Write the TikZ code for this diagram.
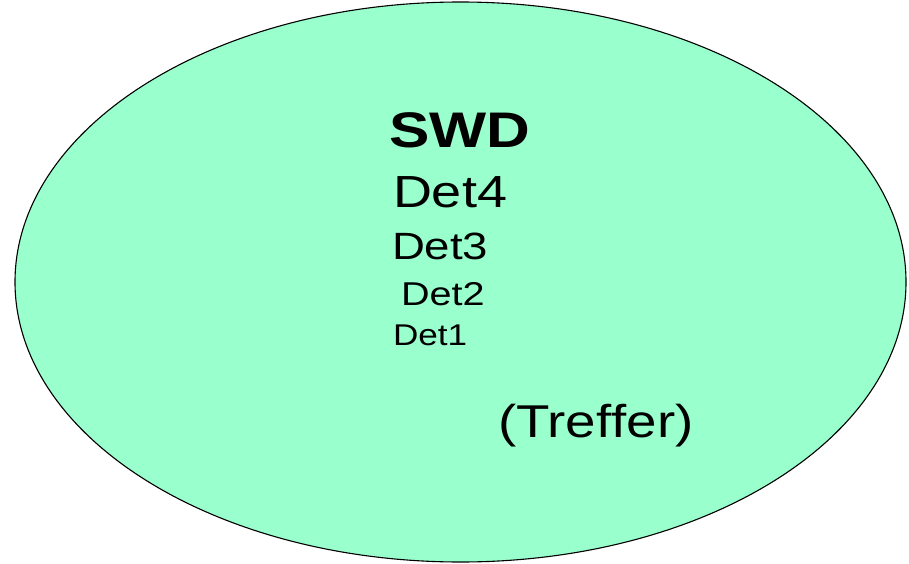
\documentclass[tikz,border=0pt]{standalone}
\usepackage{fontspec}
\setmainfont[Ligatures=NoCommon]{Liberation Sans}
\usetikzlibrary{shapes.geometric}
\definecolor{mint}{HTML}{99FFCC}
\tikzset{lbl/.style={anchor=base west, inner sep=0pt, outer sep=0pt}}
\newcommand{\txt}[3]{\scalebox{#1}[1]{\fontsize{#2}{#2}\selectfont #3}}
\begin{document}
\begin{tikzpicture}[x=1pt,y=-1pt]
\useasboundingbox (0,0) rectangle (909,564);
\node[draw=black, line width=1.1pt, fill=mint, ellipse, minimum width=891pt, minimum height=560pt, inner sep=0pt] (ell) at (460.5,282) {};
\node[lbl] (swd) at (389,148) {\txt{1.21}{50}{\bfseries SWD}};
\node[lbl] (d4) at (393,207) {\txt{1.2}{45}{Det4}};
\node[lbl] (d3) at (392,259) {\txt{1.2}{38}{Det3}};
\node[lbl] (d2) at (401,305) {\txt{1.2}{33}{Det2}};
\node[lbl] (d1) at (393,345) {\txt{1.17}{30}{Det1}};
\node[lbl] (tr) at (498,437) {\txt{1.19}{46}{(Tref\kern0ptfer)}};
\end{tikzpicture}
\end{document}
